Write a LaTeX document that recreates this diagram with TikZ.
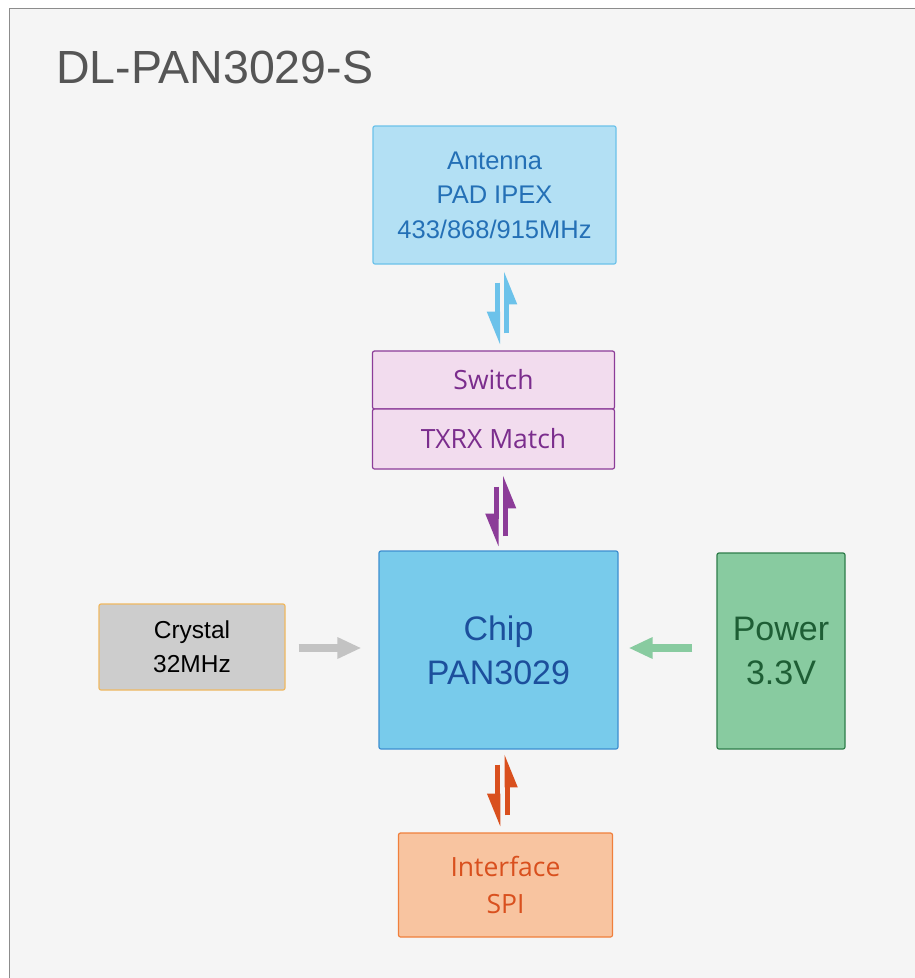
\documentclass[tikz,border=0pt]{standalone}
\usepackage{fontspec}
\setmainfont{Liberation Sans}
\newfontfamily\segoe{Open Sans}
\usetikzlibrary{calc,arrows.meta}

\definecolor{bgray}{HTML}{F5F5F5}
\definecolor{frame}{HTML}{8C8C8C}
\definecolor{titlec}{HTML}{555555}
\definecolor{antfill}{HTML}{B3E0F4}
\definecolor{antline}{HTML}{6CC2EA}
\definecolor{anttext}{HTML}{2470B6}
\definecolor{swfill}{HTML}{F2DCEE}
\definecolor{swline}{HTML}{8C3C98}
\definecolor{swtext}{HTML}{7B2D8D}
\definecolor{chipfill}{HTML}{78CBEB}
\definecolor{chipline}{HTML}{3D8FD0}
\definecolor{chiptext}{HTML}{1C4F9C}
\definecolor{crysfill}{HTML}{CDCDCD}
\definecolor{crysline}{HTML}{F0B860}
\definecolor{powfill}{HTML}{88CBA0}
\definecolor{powline}{HTML}{2E7D4A}
\definecolor{powtext}{HTML}{1E5E35}
\definecolor{spifill}{HTML}{F8C4A0}
\definecolor{spiline}{HTML}{F07F3C}
\definecolor{spitext}{HTML}{D9501E}

\tikzset{
  blk/.style={draw, rounded corners=2pt, line width=1.2pt, inner sep=0pt, align=center},
  harp/.style={line width=5pt, -{Triangle[harpoon,swap,length=27pt,width=20pt]}},
  flat/.style={line width=8pt, -{Triangle[length=24pt,width=20pt]}},
}

\begin{document}
\begin{tikzpicture}[x=1pt,y=-1pt]
\useasboundingbox (0,0) rectangle (915,978);
\fill[white] (0,0) rectangle (915,978);
\draw[frame, fill=bgray, line width=1pt] (9,990) -- (9,8) -- (930,8) -- (930,990) -- cycle;

\node[titlec, anchor=base west, inner sep=0pt, font=\fontsize{46.5}{54}\selectfont] (title) at (56,83) {DL-PAN3029-S};

% blocks
\node[blk, fill=antfill, draw=antline, text=anttext, minimum width=243pt, minimum height=138pt,
  font=\fontsize{25.5}{34.5}\selectfont] (ant) at (494.5,195) {Antenna\\PAD IPEX\\433/868/915MHz};

\node[blk, fill=swfill, draw=swline, text=swtext, minimum width=242pt, minimum height=58pt,
  font=\segoe\fontsize{26.5}{30}\selectfont] (sw) at (493.5,380) {Switch};
\node[blk, fill=swfill, draw=swline, text=swtext, minimum width=242pt, minimum height=60pt,
  font=\segoe\fontsize{26.5}{30}\selectfont] (swm) at (493.5,439) {TXRX Match};

\node[blk, fill=chipfill, draw=chipline, text=chiptext, minimum width=239pt, minimum height=198pt,
  font=\fontsize{34}{44}\selectfont] (chip) at (498.5,650) {Chip\\PAN3029};

\node[blk, fill=crysfill, draw=crysline, text=black, minimum width=186pt, minimum height=86pt,
  font=\fontsize{24.5}{34}\selectfont] (crys) at (192,647) {Crystal\\32MHz};

\node[blk, fill=powfill, draw=powline, text=powtext, minimum width=128pt, minimum height=196pt,
  font=\fontsize{34}{44}\selectfont] (pow) at (781,651) {Power\\3.3V};

\node[blk, fill=spifill, draw=spiline, text=spitext, minimum width=214pt, minimum height=104pt,
  font=\segoe\fontsize{26.5}{37}\selectfont] (spi) at (505.5,885) {Interface\\SPI};

% arrows
\draw[harp, antline] ($(ant.south)+(3,18)$) -- ($(sw.north)+(4,-5)$);
\draw[harp, antline] ($(sw.north)+(13,-17)$) -- ($(ant.south)+(12,6)$);

\draw[harp, swline] ($(swm.south)+(2.5,17)$) -- ($(chip.north)+(-2.5,-3)$);
\draw[harp, swline] ($(chip.north)+(7,-14)$) -- ($(swm.south)+(12,5)$);

\draw[harp, spitext] ($(chip.south)+(-0.75,15)$) -- ($(spi.north)+(-7.75,-5)$);
\draw[harp, spitext] ($(spi.north)+(1.5,-17)$) -- ($(chip.south)+(8.5,4)$);

\draw[flat, crysfill!95!black] ($(crys.east)+(13,1)$) -- ($(chip.west)+(-17,-2)$);
\draw[flat, powfill] ($(pow.west)+(-24,-3)$) -- ($(chip.east)+(10,-2)$);

\end{tikzpicture}
\end{document}
